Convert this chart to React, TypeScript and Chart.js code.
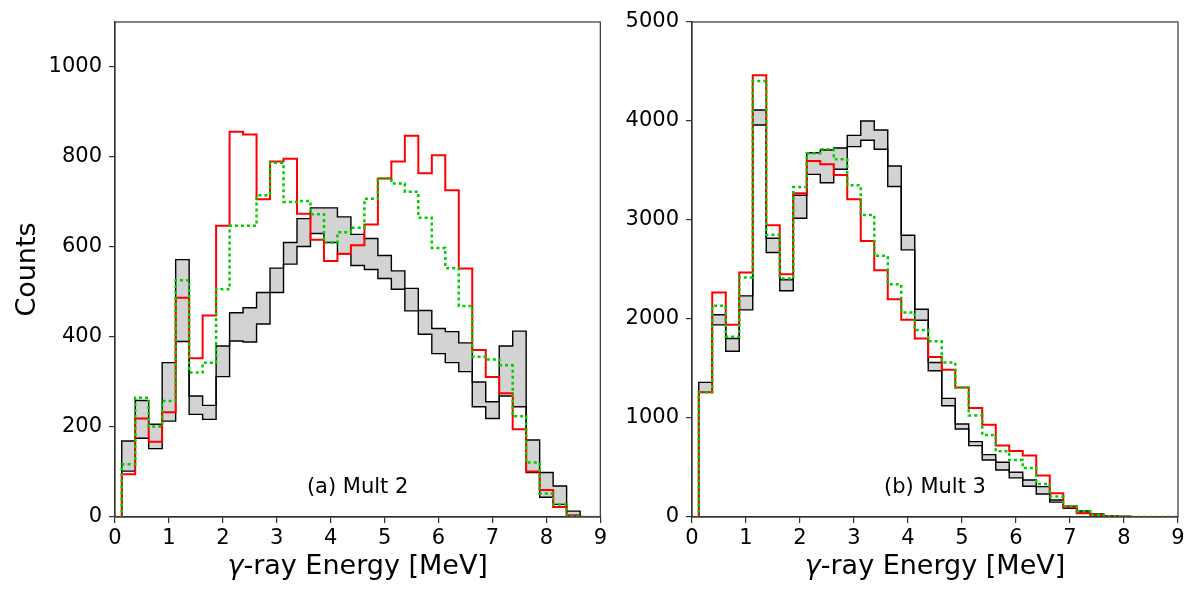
import { useEffect, useRef } from 'react'
import { Chart, registerables } from 'chart.js'

Chart.register(...registerables)
Chart.defaults.font.family = "'DejaVu Sans', sans-serif"

// bin centres in MeV, bins are 0.25 MeV wide
const binCenters = [
  0, 0.25, 0.5, 0.75, 1, 1.25, 1.5, 1.75, 2, 2.25, 2.5, 2.75, 3, 3.25, 3.5, 3.75, 4, 4.25, 4.5,
  4.75, 5, 5.25, 5.5, 5.75, 6, 6.25, 6.5, 6.75, 7, 7.25, 7.5, 7.75, 8, 8.25, 8.5, 8.75, 9,
]
const binWidth = 0.25

// (a) Mult 2
const mult2Upper = [0, 169, 259, 206, 343, 572, 269, 248, 380, 454, 465, 499, 553, 610, 663, 687, 687, 667, 628, 619, 581, 547, 508, 459, 419, 412, 387, 300, 256, 380, 413, 171, 99, 69, 13, 0, 0]
const mult2Lower = [0, 102, 175, 152, 213, 390, 228, 217, 312, 391, 389, 429, 499, 562, 601, 630, 610, 585, 559, 550, 530, 506, 458, 406, 363, 343, 323, 245, 219, 269, 245, 99, 44, 28, 4, 0, 0]
const mult2Red = [0, 95, 219, 167, 233, 487, 353, 448, 647, 856, 850, 706, 790, 796, 674, 616, 569, 585, 604, 650, 752, 790, 847, 764, 804, 726, 552, 371, 311, 275, 195, 101, 60, 22, 2, 0, 0]
const mult2Green = [0, 117, 265, 201, 258, 526, 321, 343, 506, 647, 647, 715, 787, 700, 702, 673, 610, 633, 643, 707, 753, 741, 723, 665, 598, 553, 469, 356, 350, 337, 224, 121, 52, 28, 2, 0, 0]

// (b) Mult 3
const mult3Upper = [0, 1360, 2043, 1803, 2234, 4111, 2816, 2396, 3250, 3680, 3707, 3727, 3855, 4000, 3909, 3546, 2846, 2099, 1561, 1198, 939, 761, 630, 553, 452, 374, 307, 172, 108, 61, 31, 14, 7, 0, 0, 0, 0]
const mult3Lower = [0, 1259, 1941, 1675, 2092, 3959, 2671, 2285, 3017, 3461, 3377, 3512, 3741, 3805, 3714, 3338, 2698, 1988, 1478, 1124, 889, 721, 576, 475, 395, 311, 233, 150, 89, 42, 21, 8, 1, 0, 0, 0, 0]
const mult3Red = [0, 1259, 2268, 1941, 2470, 4461, 2947, 2453, 3270, 3597, 3563, 3455, 3209, 2789, 2493, 2200, 1992, 1804, 1615, 1487, 1309, 1100, 932, 721, 667, 620, 418, 240, 99, 38, 21, 8, 0, 0, 0, 0, 0]
const mult3Green = [0, 1259, 2133, 1820, 2419, 4404, 2850, 2409, 3334, 3674, 3714, 3613, 3350, 3051, 2638, 2352, 2066, 1888, 1775, 1561, 1309, 1024, 828, 663, 576, 495, 334, 206, 108, 58, 21, 7, 0, 0, 0, 0, 0]

const xMin = 0
const xMax = 9

function stepPoints(values: number[]) {
  const pts: { x: number; y: number }[] = []
  values.forEach((v, i) => {
    pts.push({ x: binCenters[i] - binWidth / 2, y: v })
    pts.push({ x: binCenters[i] + binWidth / 2, y: v })
  })
  return pts
}

const framePlugin = (label: string, yTitle: boolean) => ({
  id: 'frame',
  afterDraw(chart: Chart) {
    const { ctx, chartArea: a } = chart
    ctx.save()
    ctx.strokeStyle = '#333'
    ctx.lineWidth = 1.2
    ctx.strokeRect(a.left, a.top, a.right - a.left, a.bottom - a.top)

    ctx.fillStyle = '#000'
    ctx.font = "21px 'DejaVu Sans'"
    ctx.textAlign = 'center'
    ctx.textBaseline = 'middle'
    ctx.fillText(label, (a.left + a.right) / 2, a.top + 0.94 * (a.bottom - a.top))

    const plain = "27px 'DejaVu Sans'"
    const ital = "italic 27px 'DejaVu Sans'"
    ctx.font = ital
    const w1 = ctx.measureText('γ').width
    ctx.font = plain
    const w2 = ctx.measureText('-ray Energy [MeV]').width
    const x0 = (a.left + a.right) / 2 - (w1 + w2) / 2
    const ty = a.bottom + 50
    ctx.textAlign = 'left'
    ctx.font = ital
    ctx.fillText('γ', x0, ty)
    ctx.font = plain
    ctx.fillText('-ray Energy [MeV]', x0 + w1, ty)

    if (yTitle) {
      ctx.translate(28, (a.top + a.bottom) / 2)
      ctx.rotate(-Math.PI / 2)
      ctx.textAlign = 'center'
      ctx.fillText('Counts', 0, 0)
    }
    ctx.restore()
  },
})

type PanelProps = {
  upper: number[]
  lower: number[]
  red: number[]
  green: number[]
  yMax: number
  yStep: number
  label: string
  width: number
  axisWidth: number
  padRight: number
  yTitle: boolean
}

const Panel: React.FC<PanelProps> = (p) => {
  const canvasRef = useRef<HTMLCanvasElement>(null)
  const chartRef = useRef<Chart | null>(null)

  useEffect(() => {
    if (!canvasRef.current) return
    if (chartRef.current) chartRef.current.destroy()

    const axisGrid = { drawOnChartArea: false, tickLength: 6, color: '#333', lineWidth: 1.2 }

    chartRef.current = new Chart(canvasRef.current, {
      type: 'line',
      data: {
        datasets: [
          { data: stepPoints(p.green), borderColor: '#00cc00', borderWidth: 2.5, borderDash: [3, 3], pointRadius: 0, fill: false },
          { data: stepPoints(p.red), borderColor: '#ff0000', borderWidth: 2, pointRadius: 0, fill: false },
          { data: stepPoints(p.upper), borderColor: '#000', borderWidth: 1.4, pointRadius: 0, fill: { target: 3 }, backgroundColor: '#d3d3d3' },
          { data: stepPoints(p.lower), borderColor: '#000', borderWidth: 1.4, pointRadius: 0, fill: false },
        ],
      },
      options: {
        responsive: false,
        animation: false,
        layout: { padding: { top: 22, right: p.padRight, left: 0, bottom: 0 } },
        plugins: {
          legend: { display: false },
          tooltip: { enabled: false },
          filler: { drawTime: 'beforeDatasetsDraw' },
        },
        scales: {
          x: {
            type: 'linear',
            min: xMin,
            max: xMax,
            afterFit: (s: any) => { s.height = 83 },
            ticks: { stepSize: 1, color: '#000', font: { size: 21 }, padding: 3, maxRotation: 0, autoSkip: false, callback: (v: any) => String(v) },
            grid: axisGrid,
            border: { color: '#333', width: 1.2 },
          },
          y: {
            min: 0,
            max: p.yMax,
            afterFit: (s: any) => { s.width = p.axisWidth },
            ticks: { stepSize: p.yStep, includeBounds: false, color: '#000', font: { size: 21 }, padding: 7, callback: (v: any) => String(v) },
            grid: axisGrid,
            border: { color: '#333', width: 1.2 },
          },
        },
      },
      plugins: [framePlugin(p.label, p.yTitle)],
    } as any)

    return () => {
      chartRef.current?.destroy()
      chartRef.current = null
    }
  }, [])

  return <canvas ref={canvasRef} width={p.width} height={600} />
}

export default function App() {
  return (
    <div style={{ position: 'absolute', left: 0, top: 0, width: 1200, height: 600, background: '#fff', display: 'flex' }}>
      <Panel upper={mult2Upper} lower={mult2Lower} red={mult2Red} green={mult2Green}
        yMax={1100} yStep={200} label="(a) Mult 2" width={610} axisWidth={115} padRight={9} yTitle={true} />
      <Panel upper={mult3Upper} lower={mult3Lower} red={mult3Red} green={mult3Green}
        yMax={5000} yStep={1000} label="(b) Mult 3" width={590} axisWidth={82} padRight={22} yTitle={false} />
    </div>
  )
}
